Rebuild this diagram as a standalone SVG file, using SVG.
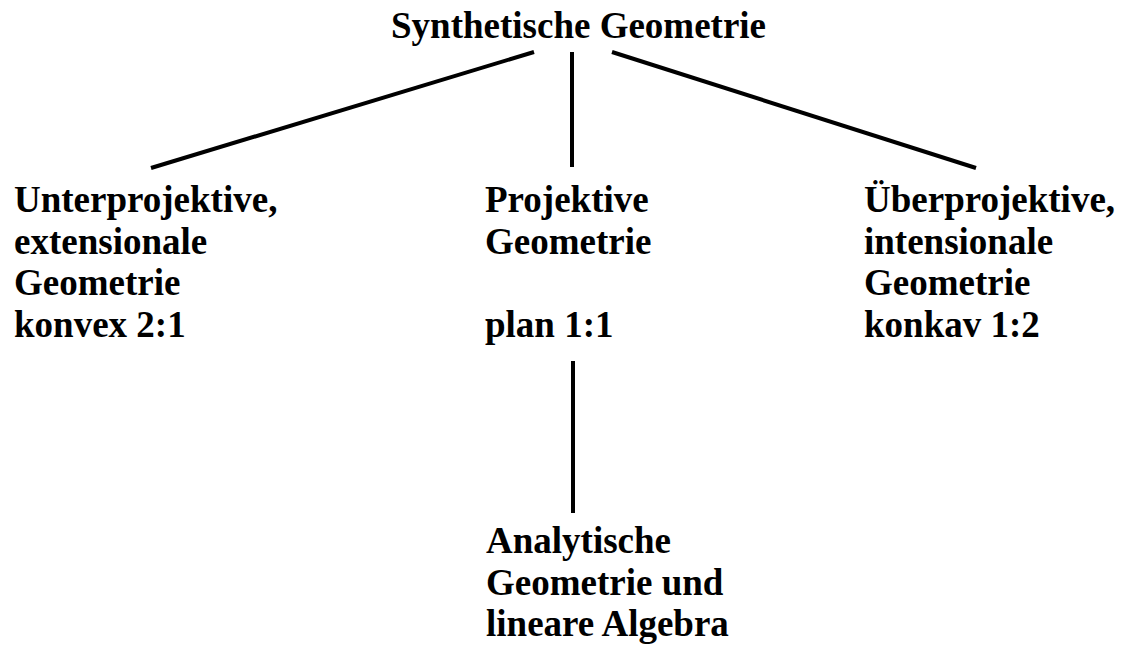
<svg xmlns="http://www.w3.org/2000/svg" width="1122" height="648" viewBox="0 0 1122 648">
<style>
text{font-family:"Liberation Serif","Times New Roman",serif;font-weight:bold;font-size:37px;fill:#000}
.c line{stroke:#000;stroke-width:4;stroke-linecap:butt}
</style>
<rect width="1122" height="648" fill="#fff"/>
<g id="connectors" class="c">
<line x1="534" y1="52" x2="151" y2="168"/>
<line x1="572" y1="52" x2="572" y2="167"/>
<line x1="612" y1="52" x2="976" y2="168"/>
<line x1="573" y1="361" x2="573" y2="513"/>
</g>
<g id="root"><text x="391" y="38">Synthetische Geometrie</text></g>
<g id="left">
<text x="14" y="212">Unterprojektive,</text>
<text x="14" y="253.5">extensionale</text>
<text x="14" y="295">Geometrie</text>
<text x="14" y="336.5">konvex 2:1</text>
</g>
<g id="middle">
<text x="485" y="212">Projektive</text>
<text x="485" y="253.5">Geometrie</text>
<text x="485" y="336.5">plan 1:1</text>
</g>
<g id="right">
<text x="864" y="212">Überprojektive,</text>
<text x="864" y="253.5">intensionale</text>
<text x="864" y="295">Geometrie</text>
<text x="864" y="336.5">konkav 1:2</text>
</g>
<g id="bottom">
<text x="486" y="553">Analytische</text>
<text x="486" y="594.5">Geometrie und</text>
<text x="486" y="636">lineare Algebra</text>
</g>
</svg>
